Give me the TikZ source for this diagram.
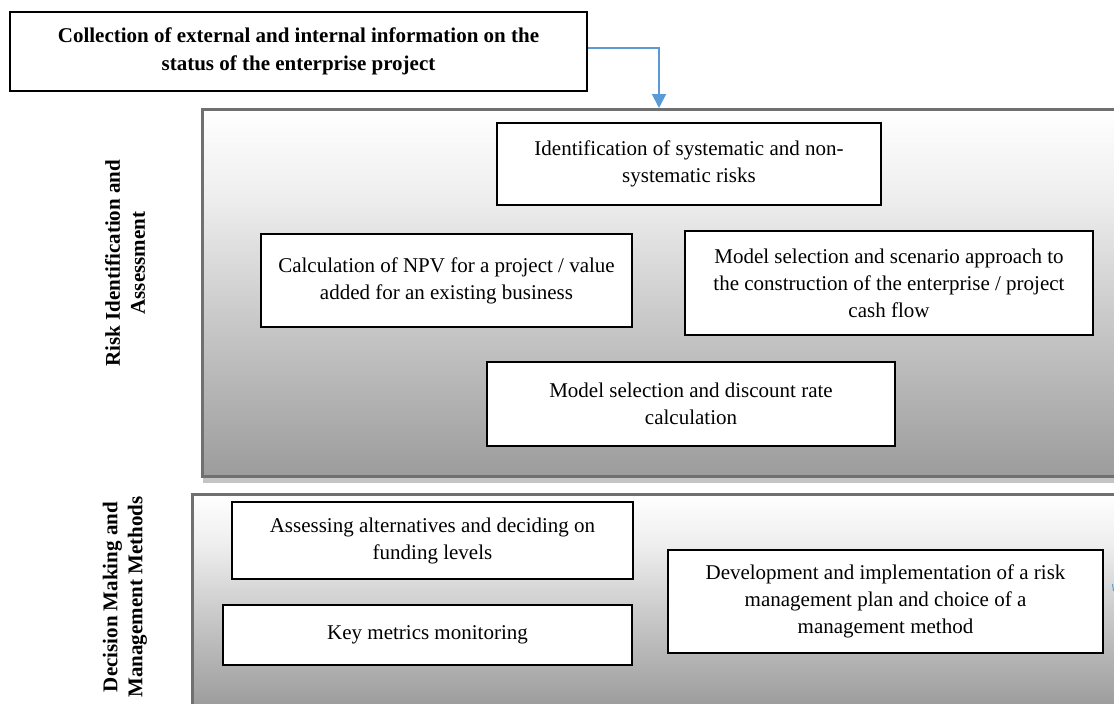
\documentclass[tikz,border=0pt]{standalone}
\usepackage{fontspec}
\setmainfont{Liberation Serif}
\usetikzlibrary{arrows.meta}
\definecolor{arrowblue}{RGB}{91,155,213}
\definecolor{panelborder}{RGB}{112,112,112}
\definecolor{panelbottom}{RGB}{156,156,156}
\definecolor{panelmid}{RGB}{200,200,200}
\definecolor{panellight}{RGB}{238,238,238}
\definecolor{shadowgray}{RGB}{196,196,196}
\pgfdeclareverticalshading{panelshade}{100bp}{color(0bp)=(panelbottom); color(25bp)=(panelbottom); color(46bp)=(panelmid); color(63bp)=(panellight); color(75bp)=(white); color(100bp)=(white)}
\begin{document}
\begin{tikzpicture}[x=1pt,y=-1pt,
  panel/.style={draw=panelborder, line width=2.5pt, shading=panelshade, anchor=north west, inner sep=0pt},
  box/.style={draw=black, line width=1.3pt, fill=white, align=center, inner sep=0pt,
    font=\fontsize{21}{27}\selectfont},
  sidelabel/.style={rotate=90, align=center, font=\bfseries\fontsize{21}{25}\selectfont},
  arr/.style={draw=arrowblue, line width=2pt, -{Triangle[width=14pt,length=14pt]}}
]
\useasboundingbox (0,0) rectangle (1114,704);
\clip (0,0) rectangle (1114,704);

% shadow of the upper panel
\fill[shadowgray] (203,470) rectangle (1130,483);
% panels
\node[panel, minimum width=929pt, minimum height=367pt] (risk) at (201,108) {};
\node[panel, minimum width=939pt, minimum height=212pt] (decision) at (191,493) {};

% top box
\node[box, font=\bfseries\fontsize{21}{28}\selectfont, minimum width=577pt, minimum height=79pt] (top) at (298.5,51.5)
  {Collection of external and internal information on the\\status of the enterprise project};
\coordinate (entry) at (659,108);
\draw[arr] ([yshift=3.5pt]top.east) -| (entry);

% side labels
\node[sidelabel] (lab1) at (125,263) {Risk Identification and\\Assessment};
\node[sidelabel] (lab2) at (125,597) {Decision Making and\\Management Methods};

% risk boxes
\node[box, minimum width=384pt, minimum height=82pt] (b1) at (689,164)
  {Identification of systematic and non-\\systematic risks};
\node[box, minimum width=371pt, minimum height=93pt] (b2) at (446.5,280.5)
  {Calculation of NPV for a project / value\\added for an existing business};
\node[box, minimum width=408pt, minimum height=104pt] (b3) at (889,283)
  {Model selection and scenario approach to\\the construction of the enterprise / project\\cash flow};
\node[box, minimum width=408pt, minimum height=84pt] (b4) at (691,404)
  {Model selection and discount rate\\calculation};

% decision boxes
\node[box, minimum width=401pt, minimum height=77pt] (b5) at (432.5,540.5)
  {Assessing alternatives and deciding on\\funding levels};
\node[box, minimum width=409pt, minimum height=60pt] (b6) at (427.5,635)
  {Key metrics monitoring};
\node[box, minimum width=435pt, minimum height=103pt] (b7) at (885.5,601.5)
  {Development and implementation of a risk\\management plan and choice of a\\management method};

% small cut-off blue mark at the right edge
\coordinate (tickA) at (1112.5,584);
\coordinate (tickB) at (1113.5,591);
\draw[arrowblue, line width=1pt] (tickA) -- (tickB);
\end{tikzpicture}
\end{document}
